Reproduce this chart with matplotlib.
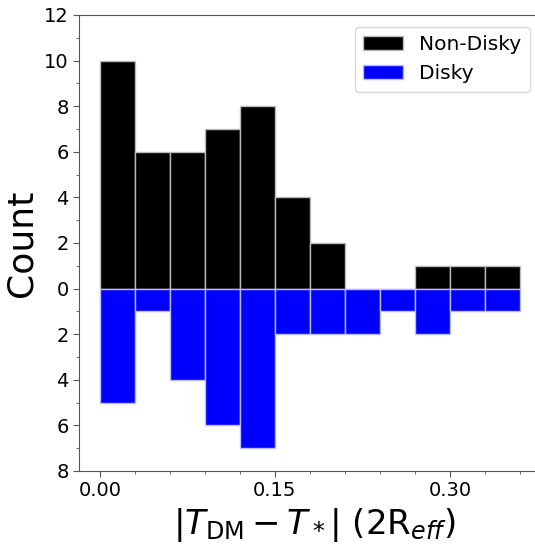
import matplotlib
matplotlib.use("Agg")
import matplotlib.pyplot as plt
import numpy as np
from matplotlib.ticker import MultipleLocator, FuncFormatter

bin_edges = [0.00, 0.03, 0.06, 0.09, 0.12, 0.15, 0.18, 0.21, 0.24, 0.27, 0.30, 0.33, 0.36]
non_disky = [10, 6, 6, 7, 8, 4, 2, 0, 0, 1, 1, 1]
disky = [5, 1, 4, 6, 7, 2, 2, 2, 1, 2, 1, 1]

fig = plt.figure(figsize=(5.35, 5.44), dpi=100)
ax = fig.add_axes([79/535, 73/544, 470/535, 456/544])

left = np.array(bin_edges[:-1])
width = np.diff(bin_edges)
ax.bar(left, non_disky, width=width, align='edge', color='black', edgecolor='#bbbbbb', linewidth=1, label='Non-Disky')
ax.bar(left, -np.array(disky), width=width, align='edge', color='blue', edgecolor='#bbbbff', linewidth=1, label='Disky')

ax.set_xlim(-0.018, 0.385)
ax.set_ylim(-8, 12)
ax.xaxis.set_major_locator(MultipleLocator(0.15))
ax.xaxis.set_minor_locator(MultipleLocator(0.03))
ax.xaxis.set_major_formatter(FuncFormatter(lambda v, p: f"{v:.2f}"))
ax.yaxis.set_major_locator(MultipleLocator(2))
ax.yaxis.set_minor_locator(MultipleLocator(1))
ax.yaxis.set_major_formatter(FuncFormatter(lambda v, p: f"{abs(int(round(v)))}"))

for s in ['left', 'bottom', 'top', 'right']:
    ax.spines[s].set_color('#555555')
ax.tick_params(which='both', colors='#555555', labelcolor='black', labelsize=14)
ax.tick_params(which='major', length=4)
ax.tick_params(which='minor', length=2.5)

ax.set_ylabel('Count', fontsize=26)
ax.set_xlabel(r'$|T_{\rm DM}-T_*|$ (2R$_{eff}$)', fontsize=24.5)

leg = ax.legend(loc='upper right', fontsize=14.5, bbox_to_anchor=(0.98, 0.995))

fig.savefig('out.png', dpi=100)
